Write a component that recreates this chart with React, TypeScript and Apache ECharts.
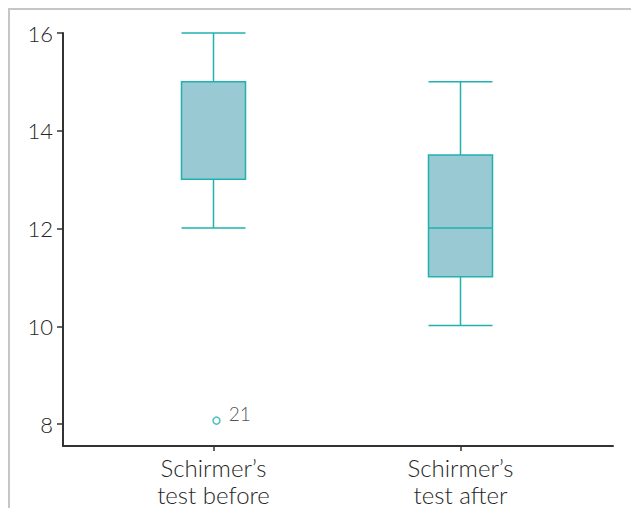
import React, { useEffect, useRef } from "react";
import * as echarts from "echarts";

// Schirmer's test values (mm), before and after
const categories = ["Schirmer’s\ntest before", "Schirmer’s\ntest after"];
// [min, Q1, median, Q3, max]
const boxValues = [
  [12, 13, 13, 15, 16],
  [10, 11, 12, 13.5, 15],
];
// outlier: [category index, value, case number]
const outliers = [[0, 8.05, "21"]];
const yTicks = [8, 10, 12, 14, 16];
const yMin = 7.55;
const yMax = 16;

const FONT = "Lato, 'Open Sans', sans-serif";
const TEXT = "#262626";
const TEAL = "#22b1b1";

export default function App() {
  const ref = useRef<HTMLDivElement>(null);

  useEffect(() => {
    document.body.style.margin = "0";
    if (!ref.current) return;
    const chart = echarts.init(ref.current, undefined, { renderer: "svg" });
    chart.setOption({
      animation: false,
      grid: [
        { left: 90, right: 47, top: 33, bottom: 62 },
        { left: 63, right: 18, top: 33, bottom: 62 },
      ],
      xAxis: [
        {
          type: "category",
          gridIndex: 0,
          data: categories,
          boundaryGap: true,
          axisLine: { show: false },
          axisTick: {
            show: true,
            alignWithLabel: true,
            length: 6,
            lineStyle: { color: "#333", width: 1.5 },
          },
          axisLabel: {
            fontFamily: FONT,
            fontWeight: 300,
            fontSize: 24,
            color: TEXT,
            lineHeight: 27,
            margin: 9,
          },
          splitLine: { show: false },
        },
        {
          type: "value",
          gridIndex: 1,
          min: 0,
          max: 1,
          axisLine: { show: true, onZero: false, lineStyle: { color: "#333", width: 2 } },
          axisTick: { show: false },
          axisLabel: { show: false },
          splitLine: { show: false },
        },
      ],
      yAxis: [
        {
          type: "value",
          gridIndex: 0,
          min: yMin,
          max: yMax,
          show: false,
          splitLine: { show: false },
        },
        {
          type: "value",
          gridIndex: 1,
          min: yMin,
          max: yMax,
          axisLine: { show: true, lineStyle: { color: "#333", width: 2 } },
          axisTick: {
            show: true,
            inside: false,
            length: 6,
            customValues: yTicks,
            lineStyle: { color: "#333", width: 1.5 },
          },
          axisLabel: {
            customValues: yTicks,
            fontFamily: FONT,
            fontWeight: 300,
            fontSize: 22,
            color: TEXT,
            margin: 10,
          },
          splitLine: { show: false },
        },
      ],
      series: [
        {
          type: "boxplot",
          xAxisIndex: 0,
          yAxisIndex: 0,
          data: boxValues,
          boxWidth: [64, 64],
          itemStyle: {
            color: "#99cad4",
            borderColor: TEAL,
            borderWidth: 1.5,
          },
        },
        {
          type: "scatter",
          xAxisIndex: 0,
          yAxisIndex: 0,
          data: outliers.map((o) => [o[0], o[1], o[2]]),
          symbol: "circle",
          symbolSize: 7,
          symbolOffset: [3, 0],
          itemStyle: { color: "#fff", borderColor: TEAL, borderWidth: 1.5 },
          label: {
            show: true,
            position: "right",
            distance: 5,
            offset: [3, -7],
            formatter: (p: any) => p.value[2],
            fontFamily: FONT,
            fontWeight: 300,
            fontSize: 19,
            color: TEXT,
          },
        },
      ],
    });
    return () => chart.dispose();
  }, []);

  return (
    <div style={{ position: "relative", width: 631, height: 508, background: "#fff" }}>
      <div style={{ position: "absolute", left: 8, top: 8, right: 0, height: 2, background: "#c6c6c6" }} />
      <div style={{ position: "absolute", left: 8, top: 8, bottom: 0, width: 2, background: "#c6c6c6" }} />
      <div ref={ref} style={{ position: "absolute", left: 0, top: 0, width: 631, height: 508 }} />
    </div>
  );
}
